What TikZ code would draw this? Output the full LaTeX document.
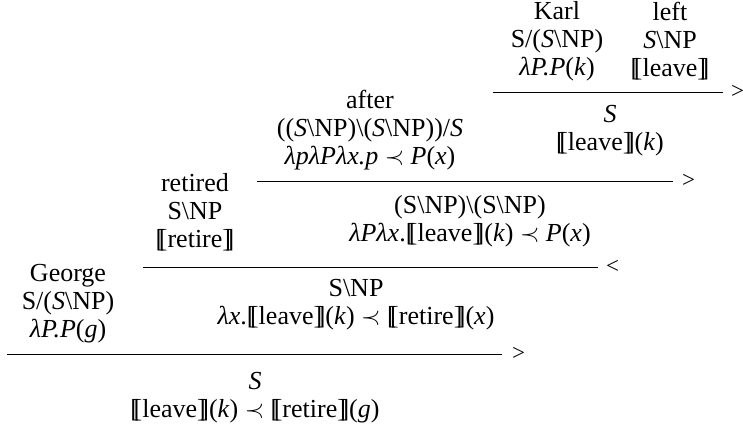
\documentclass[tikz,border=0pt]{standalone}
\usepackage{fontspec}
\setmainfont{Liberation Serif}
% semantic brackets built from two square brackets
\newcommand\lsem{[\kern-0.21em[}
\newcommand\rsem{]\kern-0.21em]}
\newcommand\bs{\textbackslash}
\newcommand\prc{\ensuremath{\prec}}
\newcommand\ti[1]{\textit{#1}}
\tikzset{
  entry/.style={font=\fontsize{26}{28}\selectfont, inner sep=0pt, align=center},
  rulesym/.style={font=\fontsize{23}{24}\selectfont, inner sep=0pt},
  ruleline/.style={line width=1pt, black}
}
\begin{document}
\begin{tikzpicture}[x=1pt,y=-1pt]
\useasboundingbox (0,0) rectangle (743,423);

% lexical entries
\node[entry] (karl) at (557,41) {Karl\\S/(\ti{S}\bs NP)\\\ti{λP.P}(\ti{k})};
\node[entry] (left) at (670,41) {left\\\ti{S}\bs NP\\\lsem leave\rsem};
\node[entry] (after) at (370,130) {after\\((\ti{S}\bs NP)\bs(\ti{S}\bs NP))/\ti{S}\\\ti{λpλPλx.p} \prc{} \ti{P}(\ti{x})};
\node[entry] (retired) at (195,212) {retired\\S\bs NP\\\lsem retire\rsem};
\node[entry] (george) at (68,304) {George\\S/(\ti{S}\bs NP)\\\ti{λP.P}(\ti{g})};

% derived results
\node[entry] (res1) at (610,131) {\ti{S}\\\lsem leave\rsem(\ti{k})};
\node[entry] (res2) at (470,221) {(S\bs NP)\bs(S\bs NP)\\\ti{λPλx}.\lsem leave\rsem(\ti{k}) \prc{} \ti{P}(\ti{x})};
\node[entry] (res3) at (356,305) {S\bs NP\\\ti{λx}.\lsem leave\rsem(\ti{k}) \prc{} \lsem retire\rsem(\ti{x})};
\node[entry] (res4) at (255,398) {\ti{S}\\\lsem leave\rsem(\ti{k}) \prc{} \lsem retire\rsem(\ti{g})};

% combination rules
\coordinate (r1a) at (493,92);  \coordinate (r1b) at (723,92);
\coordinate (r2a) at (257,181); \coordinate (r2b) at (673,181);
\coordinate (r3a) at (143,267); \coordinate (r3b) at (598,267);
\coordinate (r4a) at (7,354);   \coordinate (r4b) at (502,354);
\draw[ruleline] (r1a) -- (r1b);
\draw[ruleline] (r2a) -- (r2b);
\draw[ruleline] (r3a) -- (r3b);
\draw[ruleline] (r4a) -- (r4b);
\node[rulesym, anchor=west] (s1) at ([xshift=8pt]r1b) {>};
\node[rulesym, anchor=west] (s2) at ([xshift=9pt]r2b) {>};
\node[rulesym, anchor=west] (s3) at ([xshift=8pt]r3b) {<};
\node[rulesym, anchor=west] (s4) at ([xshift=10pt]r4b) {>};
\end{tikzpicture}
\end{document}
